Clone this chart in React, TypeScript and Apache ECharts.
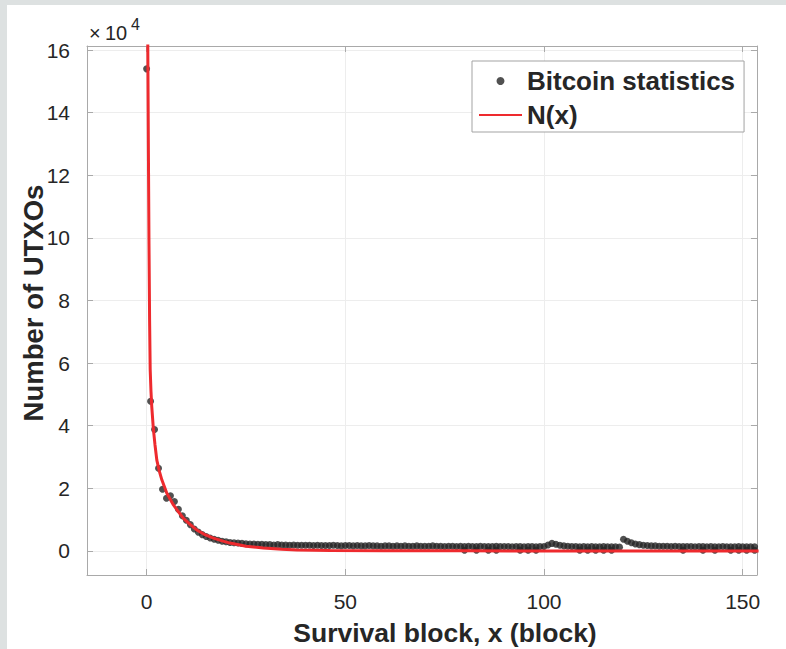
import React, { useEffect, useRef } from "react";
import * as echarts from "echarts";

// Survival block x = 0..153, Number of UTXOs (×10^4)
const statValues: number[] = [
  15.4, 4.78, 3.88, 2.64, 1.97, 1.68, 1.76, 1.58, 1.33, 1.12,
  0.98, 0.84, 0.7, 0.6, 0.52, 0.46, 0.41, 0.37, 0.34, 0.31,
  0.29, 0.27, 0.26, 0.25, 0.24, 0.23, 0.22, 0.22, 0.21, 0.21,
  0.2, 0.2, 0.19, 0.2, 0.19, 0.19, 0.18, 0.19, 0.18, 0.18,
  0.18, 0.18, 0.17, 0.18, 0.17, 0.17, 0.17, 0.18, 0.17, 0.16,
  0.17, 0.17, 0.16, 0.17, 0.16, 0.16, 0.17, 0.16, 0.16, 0.15,
  0.16, 0.16, 0.15, 0.16, 0.15, 0.16, 0.15, 0.15, 0.16, 0.15,
  0.15, 0.15, 0.16, 0.15, 0.15, 0.14, 0.15, 0.15, 0.14, 0.15,
  0.14, 0.15, 0.14, 0.14, 0.15, 0.14, 0.14, 0.14, 0.15, 0.14,
  0.14, 0.14, 0.13, 0.14, 0.14, 0.13, 0.14, 0.14, 0.13, 0.14,
  0.14, 0.19, 0.24, 0.21, 0.18, 0.16, 0.15, 0.14, 0.14, 0.13,
  0.14, 0.13, 0.14, 0.13, 0.13, 0.14, 0.13, 0.13, 0.13, 0.12,
  0.37, 0.31, 0.26, 0.22, 0.2, 0.18, 0.17, 0.16, 0.16, 0.15,
  0.15, 0.15, 0.14, 0.15, 0.14, 0.14, 0.14, 0.14, 0.13, 0.14,
  0.14, 0.13, 0.14, 0.13, 0.13, 0.14, 0.13, 0.13, 0.13, 0.14,
  0.13, 0.13, 0.13, 0.13,
];
// extra observations lying at ~0 (only just visible under the fitted curve)
const zeroBlocks: number[] = [80, 83, 86, 88, 94, 96, 98, 109, 111, 113, 115, 117, 135, 140, 143, 147, 149, 151, 153];
const zeroValue = 0.02;

// Fitted curve N(x)
const curveX: number[] = [0.15, 0.3, 0.45, 0.6, 0.75, 0.9, 1.1, 1.3, 1.7, 2.1, 2.57, 3.2, 3.83, 5.09, 6.75, 8, 9.27, 11, 12.6, 14.5, 16.8, 19, 21, 25, 29.4, 34, 37.8, 46.2, 60, 80, 100, 130, 154];
const curveY: number[] = [19, 16.1, 12.8, 9.8, 7.4, 5.8, 5.1, 4.6, 3.9, 3.4, 2.9, 2.55, 2.27, 1.84, 1.47, 1.25, 1.04, 0.84, 0.67, 0.53, 0.41, 0.32, 0.25, 0.15, 0.09, 0.05, 0.03, 0.01, 0.003, 0.001, 0, 0, 0];

const xTicks: number[] = [0, 50, 100, 150];
const yTicks: number[] = [0, 2, 4, 6, 8, 10, 12, 14, 16];

const FONT = "'Liberation Sans', Arial, Helvetica, sans-serif";
const TEXT = "#262626";
const AXIS = "#a9a9a9";
const GRID = "#ededed";
const RED = "#ee2a2e";

export default function App() {
  const ref = useRef<HTMLDivElement>(null);
  useEffect(() => {
    if (!ref.current) return;
    const chart = echarts.init(ref.current, undefined, { renderer: "svg" });
    const statData: number[][] = statValues.map((v, i) => [i, v]);
    zeroBlocks.forEach((x) => statData.push([x, zeroValue]));
    const curveData = curveX.map((x, i) => [x, curveY[i]]);
    const axisCommon = {
      type: "value" as const,
      axisLine: { show: true, onZero: false, lineStyle: { color: AXIS, width: 1 } },
    };
    chart.setOption({
      animation: false,
      backgroundColor: "transparent",
      grid: { left: 87, right: 29, top: 46, bottom: 74, containLabel: false },
      xAxis: [
        {
          ...axisCommon,
          position: "bottom",
          min: -15,
          max: 153.6,
          axisTick: { show: true, inside: true, length: 6, customValues: xTicks, lineStyle: { color: AXIS } },
          axisLabel: { show: true, customValues: xTicks, margin: 16, color: TEXT, fontFamily: FONT, fontSize: 21 },
          splitLine: { show: true, lineStyle: { color: GRID, width: 1 } },
        },
        {
          ...axisCommon,
          position: "top",
          min: -15,
          max: 153.6,
          axisTick: { show: true, inside: true, length: 6, customValues: xTicks, lineStyle: { color: AXIS } },
          axisLabel: { show: false },
          splitLine: { show: false },
        },
      ],
      yAxis: [
        {
          ...axisCommon,
          position: "left",
          min: -0.77,
          max: 16.13,
          axisTick: { show: true, inside: true, length: 6, customValues: yTicks, lineStyle: { color: AXIS } },
          axisLabel: { show: true, customValues: yTicks, margin: 17, color: TEXT, fontFamily: FONT, fontSize: 21 },
          splitLine: { show: true, lineStyle: { color: GRID, width: 1 } },
        },
        {
          ...axisCommon,
          position: "right",
          min: -0.77,
          max: 16.13,
          axisTick: { show: true, inside: true, length: 6, customValues: yTicks, lineStyle: { color: AXIS } },
          axisLabel: { show: false },
          splitLine: { show: false },
        },
      ],
      legend: {
        orient: "vertical",
        left: 472,
        top: 61,
        padding: [7, 9, 4, 6],
        itemGap: 8,
        itemWidth: 43,
        itemHeight: 8,
        borderColor: "#a3a3a3",
        borderWidth: 1,
        backgroundColor: "#ffffff",
        textStyle: { color: TEXT, fontFamily: FONT, fontSize: 26, fontWeight: "bold" },
        data: [
          { name: "Bitcoin statistics", icon: "circle" },
          { name: "N(x)", itemStyle: { opacity: 0 } },
        ],
      },
      graphic: [
        {
          type: "text",
          x: 33,
          y: 303,
          rotation: Math.PI / 2,
          style: {
            text: "Number of UTXOs",
            fill: TEXT,
            font: `bold 27.5px ${FONT}`,
            align: "center",
            verticalAlign: "middle",
          },
        },
        {
          type: "text",
          x: 445,
          y: 633,
          style: {
            text: "Survival block, x (block)",
            fill: TEXT,
            font: `bold 26.5px ${FONT}`,
            align: "center",
            verticalAlign: "middle",
          },
        },
        {
          type: "text",
          x: 89,
          y: 33,
          style: { text: "×", fill: TEXT, font: `20px ${FONT}`, align: "left", verticalAlign: "middle" },
        },
        {
          type: "text",
          x: 105,
          y: 33,
          style: { text: "10", fill: TEXT, font: `20px ${FONT}`, align: "left", verticalAlign: "middle" },
        },
        {
          type: "text",
          x: 131,
          y: 24,
          style: { text: "4", fill: TEXT, font: `16px ${FONT}`, align: "left", verticalAlign: "middle" },
        },
      ],
      series: [
        {
          name: "Bitcoin statistics",
          type: "scatter",
          data: statData,
          symbol: "circle",
          symbolSize: 7,
          itemStyle: { color: "#262626" },
          z: 2,
        },
        {
          name: "N(x)",
          type: "line",
          data: curveData,
          showSymbol: false,
          symbol: "none",
          lineStyle: { color: RED, width: 3 },
          itemStyle: { color: RED },
          clip: true,
          z: 3,
        },
      ],
    });
    return () => chart.dispose();
  }, []);
  return (
    <div style={{ position: "absolute", left: 0, top: 0, width: 786, height: 649, background: "#dde1e1" }}>
      <div style={{ position: "absolute", left: 7, top: 5, right: 0, bottom: 0, background: "#ffffff" }} />
      <div ref={ref} style={{ position: "absolute", left: 0, top: 0, width: 786, height: 649 }} />
    </div>
  );
}
